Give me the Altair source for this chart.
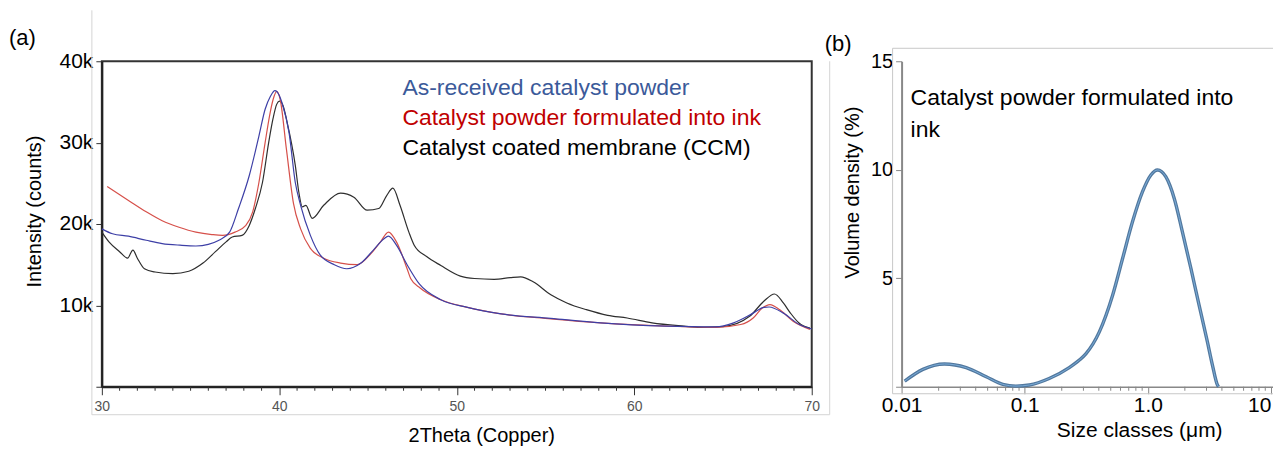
import altair as alt
import pandas as pd

# ---------------- Panel (a): XRD patterns ----------------
blue_x = [30.0, 30.6, 31.5, 32.5, 33.4, 34.4, 35.3, 36.0, 36.6, 37.2, 37.7, 38.3, 38.85, 39.2, 39.5, 39.75,
          40.0, 40.15, 40.55, 40.9, 41.2, 41.75, 42.3, 43.1, 43.8, 44.6, 45.3, 45.9, 46.15, 46.6, 47.2, 47.9,
          49.1, 50.6, 52.5, 55.3, 58.1, 61.8, 64.6, 65.6, 66.7, 67.3, 67.6, 68.4, 69.3, 70.0]
blue_y = [19400, 18800, 18500, 18000, 17600, 17400, 17300, 17500, 18000, 19000, 21900, 25900, 30800, 34100, 35700, 36400,
          35800, 34900, 31200, 25100, 22300, 18600, 16200, 15000, 14500, 15200, 16800, 18200, 18500, 17400, 15000, 12600,
          10700, 9750, 8950, 8400, 7850, 7450, 7350, 7850, 9050, 9750, 9800, 9050, 7650, 7100]

red_x = [30.3, 31.5, 32.5, 33.4, 34.35, 35.3, 36.2, 36.8, 37.5, 38.1, 38.5, 38.85, 39.2, 39.45, 39.65, 39.85,
         40.05, 40.4, 40.8, 41.2, 41.75, 42.5, 43.45, 44.4, 45.1, 45.7, 46.15, 46.6, 47.2, 47.4, 47.95,
         49.1, 50.6, 52.5, 55.3, 58.1, 61.8, 64.6, 66.0, 66.7, 67.2, 67.65, 68.2, 68.95, 69.9]
red_y = [24600, 22900, 21500, 20400, 19600, 19000, 18700, 18600, 19000, 19800, 21500, 25100, 30000, 33300, 35300, 36300,
         35300, 29200, 22500, 19400, 17000, 15800, 15200, 15000, 16200, 17800, 19000, 17800, 14500, 13300, 12100,
         10700, 9750, 8950, 8350, 7850, 7450, 7300, 7650, 8450, 9650, 10100, 9450, 8050, 7050]

black_x = [30.0, 30.4, 31.0, 31.45, 31.75, 32.0, 32.4, 33.0, 34.0, 34.9, 35.7, 36.4, 37.0, 37.35, 37.9,
           38.3, 38.65, 39.05, 39.4, 39.65, 39.85, 40.0, 40.2, 40.45, 40.9, 41.1, 41.3, 41.5, 41.85, 42.5, 43.45, 44.2,
           44.95, 45.6, 46.05, 46.4, 46.8, 47.3, 47.6, 48.3, 49.1, 50.2, 51.0, 52.1, 53.0, 53.6, 54.3,
           55.3, 56.2, 57.3, 58.5, 59.6, 61.0, 62.8, 63.7, 65.0, 66.5, 67.3, 67.9, 68.4, 68.8, 69.3, 69.9]
black_y = [19000, 17800, 16600, 15800, 16800, 15800, 14500, 14100, 13900, 14200, 15200, 16600, 17800, 18400, 18600,
           19800, 21900, 25100, 30000, 33000, 34700, 35100, 34600, 32400, 27200, 23900, 22100, 22300, 20700, 22300, 23800, 23300,
           21700, 21900, 23500, 24400, 22300, 19000, 17400, 16000, 14900, 13600, 13300, 13200, 13400, 13500, 12900,
           11300, 10300, 9470, 8780, 8450, 7850, 7450, 7300, 7400, 8660, 10500, 11400, 10300, 9060, 7800, 7200]

series_names = ["As-received catalyst powder", "Catalyst powder formulated into ink", "Catalyst coated membrane (CCM)"]
line_colors = ["#3d3fa6", "#d6504a", "#2e2e2e"]
legend_colors = ["#3b5a9a", "#c00000", "#000000"]

x_ticks_a = [30, 40, 50, 60, 70]
x_minor_a = [v for v in range(31, 70) if v % 10 != 0]
y_ticks_a = [0, 10000, 20000, 30000, 40000]

# ---------------- Panel (b): particle size distribution ----------------
size_um = [0.0106, 0.0149, 0.0223, 0.0335, 0.0487, 0.0664, 0.085, 0.109, 0.158, 0.23, 0.278, 0.315, 0.404,
           0.518, 0.624, 0.751, 0.906, 1.06, 1.20, 1.40, 1.64, 1.91, 2.24, 2.61, 3.05, 3.35, 3.68, 3.76]
vol_pct = [0.26, 0.80, 1.05, 0.88, 0.46, 0.11, 0.03, 0.08, 0.38, 0.88, 1.23, 1.53, 2.53,
           4.22, 5.91, 7.60, 8.99, 9.76, 9.99, 9.68, 8.68, 7.14, 5.45, 3.76, 2.07, 1.0, 0.08, 0.0]
x_ticks_b = [0.01, 0.1, 1, 10]
x_minor_b = [0.02, 0.03, 0.04, 0.05, 0.06, 0.07, 0.08, 0.09, 0.2, 0.3, 0.4, 0.5, 0.6, 0.7, 0.8, 0.9,
             2, 3, 4, 5, 6, 7, 8, 9]
y_ticks_b = [0, 5, 10, 15]

FONT = "Liberation Sans"
WA, HA = 711, 326
WB, HB = 375, 326
EXTRA_B = 30  # frame lines of panel (b) run past the plot and are cropped by the page edge

dummy = pd.DataFrame({"k": [0]})

# ---- panel (a) encodings
axis_xa = alt.Axis(values=x_ticks_a, title="2Theta (Copper)", titleFontSize=20, titleFont=FONT,
                   titleFontWeight="normal", titleColor="#000", titlePadding=12, titleX=380,
                   labelFontSize=14, labelColor="#555", labelFont=FONT, labelPadding=5, labelFlush=False,
                   tickSize=8, tickColor="#333", domainColor="#222", domainWidth=2, grid=False)
axis_ya = alt.Axis(values=y_ticks_a, labelExpr="datum.value == 0 ? '' : (datum.value / 1000) + 'k'",
                   title="Intensity (counts)", titleFontSize=20, titleFont=FONT, titleFontWeight="normal",
                   titleColor="#000", titlePadding=15, titleY=150,
                   labelFontSize=21, labelColor="#000", labelFont=FONT, labelPadding=3,
                   tickSize=6, tickColor="#333", domainColor="#222", domainWidth=2, grid=False)
xa = alt.X("x:Q", scale=alt.Scale(domain=[30, 70], nice=False), axis=axis_xa)
ya = alt.Y("y:Q", scale=alt.Scale(domain=[0, 40000], nice=False), axis=axis_ya)

layers_a = []
for xs, ys, col in [(black_x, black_y, line_colors[2]), (red_x, red_y, line_colors[1]), (blue_x, blue_y, line_colors[0])]:
    df = pd.DataFrame({"x": xs, "y": ys})
    layers_a.append(alt.Chart(df).mark_line(color=col, strokeWidth=1.2, interpolate="monotone").encode(x=xa, y=ya))

minor_a = alt.Chart(pd.DataFrame({"x": x_minor_a})).mark_rule(color="#333", strokeWidth=1).encode(
    x=xa, y=alt.value(HA), y2=alt.value(HA + 4))

legend_layers = []
for i, (name, col) in enumerate(zip(series_names, legend_colors)):
    legend_layers.append(
        alt.Chart(pd.DataFrame({"label": [name]})).mark_text(
            align="left", baseline="alphabetic", fontSize=23, font=FONT, color=col
        ).encode(text="label:N", x=alt.value(301), y=alt.value(34 + 30 * i))
    )

label_a = alt.Chart(pd.DataFrame({"label": ["(a)"]})).mark_text(
    align="left", baseline="middle", fontSize=22, font=FONT, color="#000"
).encode(text="label:N", x=alt.value(-93), y=alt.value(-23))

frame_col = "#d4d4d4"
frame_a = [
    alt.Chart(dummy).mark_rule(color=frame_col, strokeWidth=1).encode(x=alt.value(-10), y=alt.value(-51), y2=alt.value(354)),
    alt.Chart(dummy).mark_rule(color=frame_col, strokeWidth=1).encode(x=alt.value(-10), x2=alt.value(729), y=alt.value(354)),
    alt.Chart(dummy).mark_rule(color=frame_col, strokeWidth=1).encode(x=alt.value(729), y=alt.value(0), y2=alt.value(354)),
]

panel_a = alt.layer(*frame_a, *layers_a, minor_a, *legend_layers, label_a).properties(
    width=WA, height=HA, view=alt.ViewBackground(stroke="#333", strokeWidth=2))

# ---- panel (b) encodings
axis_xb = alt.Axis(values=x_ticks_b,
                   labelExpr="datum.value == 0.01 ? '0.01' : datum.value == 0.1 ? '0.1' : datum.value == 1 ? '1.0' : '10'",
                   labelAlign={"expr": "datum.value == 10 ? 'right' : 'center'"},
                   title="Size classes (\u03bcm)", titleFontSize=21, titleFont=FONT, titleFontWeight="normal",
                   titleColor="#000", titlePadding=4, titleX=238,
                   labelFontSize=21, labelColor="#000", labelFont=FONT, labelPadding=1, labelFlush=False,
                   tickSize=7, tickColor="#888", domainColor="#888", domainWidth=1.5, grid=False)
axis_yb = alt.Axis(values=y_ticks_b, labelExpr="datum.value == 0 ? '' : datum.label",
                   title="Volume density (%)", titleFontSize=20, titleFont=FONT, titleFontWeight="normal",
                   titleColor="#000", titlePadding=8, titleY=131,
                   labelFontSize=20, labelColor="#000", labelFont=FONT, labelPadding=3,
                   tickSize=6, tickColor="#888", domainColor="#888", domainWidth=2, grid=False)
xb = alt.X("x:Q", scale=alt.Scale(type="log", domain=[0.01, 11], nice=False), axis=axis_xb)
yb = alt.Y("y:Q", scale=alt.Scale(domain=[0, 15], nice=False), axis=axis_yb)

psd = pd.DataFrame({"x": size_um, "y": vol_pct})
curve_outer = alt.Chart(psd).mark_line(color="#52789e", strokeWidth=3.4, interpolate="monotone").encode(x=xb, y=yb)
curve_inner = alt.Chart(psd).mark_line(color="#79acd8", strokeWidth=1.0, interpolate="monotone").encode(x=xb, y=yb)
minor_b = alt.Chart(pd.DataFrame({"x": x_minor_b})).mark_rule(color="#888", strokeWidth=1).encode(
    x=xb, y=alt.value(HB), y2=alt.value(HB + 4))

note_lines = ["Catalyst powder formulated into", "ink"]
note_layers = [
    alt.Chart(pd.DataFrame({"label": [t]})).mark_text(
        align="left", baseline="alphabetic", fontSize=23, font=FONT, color="#000"
    ).encode(text="label:N", x=alt.value(9), y=alt.value(44 + 32 * i))
    for i, t in enumerate(note_lines)
]
label_b = alt.Chart(pd.DataFrame({"label": ["(b)"]})).mark_text(
    align="left", baseline="middle", fontSize=22, font=FONT, color="#000"
).encode(text="label:N", x=alt.value(-77), y=alt.value(-17))

frame_b = [
    alt.Chart(dummy).mark_rule(color="#c8c8c8", strokeWidth=1).encode(x=alt.value(-9), x2=alt.value(WB + EXTRA_B), y=alt.value(-13)),
    alt.Chart(dummy).mark_rule(color="#c8c8c8", strokeWidth=1).encode(x=alt.value(-9), y=alt.value(-13), y2=alt.value(HB + 7)),
    alt.Chart(dummy).mark_rule(color="#c8c8c8", strokeWidth=1).encode(x=alt.value(-9), x2=alt.value(WB + EXTRA_B), y=alt.value(HB + 7)),
]

panel_b = alt.layer(*frame_b, minor_b, curve_outer, curve_inner, *note_layers, label_b).properties(
    width=WB, height=HB, view=alt.ViewBackground(stroke=None))

# content spans 93 (left of panel a) + WA + 90 + WB + EXTRA_B; crop the right side to the page width
content_w = 93 + WA + 90 + WB + EXTRA_B
right_pad = 1265 - content_w

chart = alt.hconcat(panel_a, panel_b, spacing=90, bounds="flush").properties(
    padding={"left": 0, "top": 0, "right": right_pad, "bottom": 0}, background="white"
).configure_view(strokeWidth=0)

chart.save("out.html", embed_options={"renderer": "svg", "actions": False})
